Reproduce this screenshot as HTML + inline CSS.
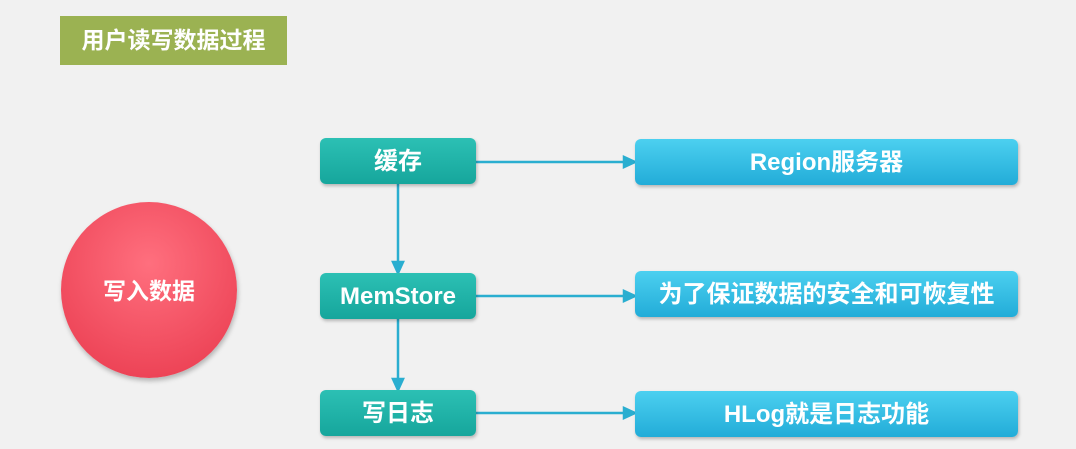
<!DOCTYPE html>
<html><head><meta charset="utf-8"><style>
body{margin:0;width:1076px;height:449px;background:#f1f1f1;position:relative;overflow:hidden;font-family:"Liberation Sans","Noto Sans CJK SC",sans-serif;font-weight:bold;color:#fff}
.t{position:absolute;left:60px;top:16px;width:227px;height:49px;background:#9bb252;font-size:23px;line-height:49px;text-align:center}
.b{position:absolute;border-radius:6px;text-align:center;font-size:24px;box-shadow:1px 2px 3px rgba(0,0,0,.25)}
.g{left:320px;width:156px;height:46px;line-height:48px;background:linear-gradient(#2cc0b4,#16a69c)}
.u{left:635px;width:383px;height:46px;line-height:48px;background:linear-gradient(#4cd0f0,#22acd8)}
.c{position:absolute;left:61px;top:202px;width:176px;height:176px;border-radius:50%;background:radial-gradient(circle at 50% 35%,#ff6f7e,#e8384c);box-shadow:1px 3px 5px rgba(0,0,0,.25);text-align:center;line-height:178px;font-size:23px}
</style></head><body>
<div class="t">用户读写数据过程</div>
<div class="c">写入数据</div>
<svg width="1076" height="449" style="position:absolute;left:0;top:0">
<g stroke="#2aaed0" stroke-width="2.5" fill="#2aaed0">
<line x1="476" y1="162" x2="625" y2="162"/><polygon points="635,162 624,157 624,167"/>
<line x1="476" y1="296" x2="625" y2="296"/><polygon points="635,296 624,291 624,301"/>
<line x1="476" y1="413" x2="625" y2="413"/><polygon points="635,413 624,408 624,418"/>
<line x1="398" y1="184" x2="398" y2="264"/><polygon points="398,273 393,262 403,262"/>
<line x1="398" y1="319" x2="398" y2="381"/><polygon points="398,390 393,379 403,379"/>
</g></svg>
<div class="b g" style="top:138px">缓存</div>
<div class="b g" style="top:273px">MemStore</div>
<div class="b g" style="top:390px">写日志</div>
<div class="b u" style="top:139px">Region服务器</div>
<div class="b u" style="top:271px">为了保证数据的安全和可恢复性</div>
<div class="b u" style="top:391px">HLog就是日志功能</div>
</body></html>
